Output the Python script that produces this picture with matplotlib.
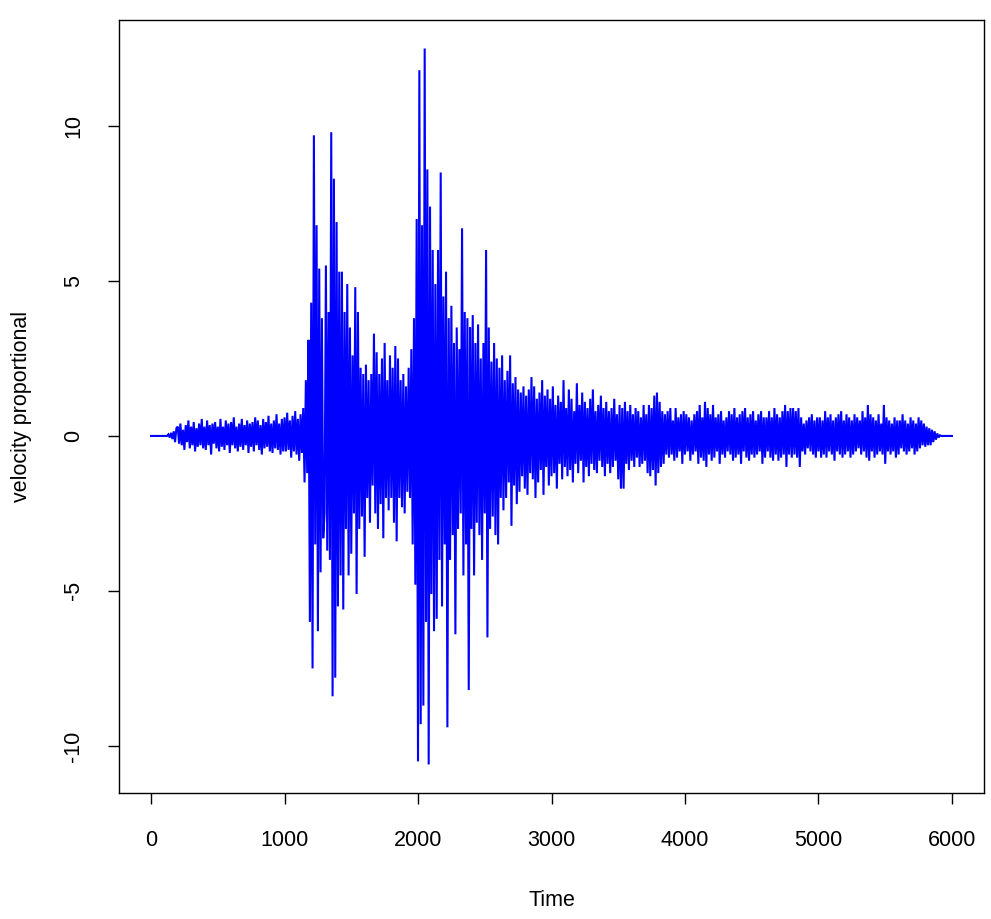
import numpy as np
import matplotlib
matplotlib.use("Agg")
import matplotlib.pyplot as plt

plt.rcParams['font.family'] = ['Liberation Sans', 'DejaVu Sans']

# sampling step of the series (time units)
step = 10

velocity = [
    # 0-190
    0, 0, 0, 0, 0, 0, 0, 0, 0, 0, 0, 0, 0, 0.05, -0.05, 0.1, -0.1, 0.15, -0.2, 0.25,
    # 200-390
    0.3, -0.25, 0.4, -0.3, 0.2, -0.45, 0.35, -0.2, 0.5, -0.4, 0.3, -0.3, 0.45, -0.5, 0.25, -0.35, 0.4, -0.3, 0.55, -0.4,
    # 400-590
    0.3, -0.45, 0.5, -0.3, 0.35, -0.6, 0.4, -0.25, 0.45, -0.4, 0.3, -0.5, 0.55, -0.35, 0.3, -0.45, 0.5, -0.3, 0.4, -0.55,
    # 600-790
    0.45, -0.3, 0.6, -0.4, 0.3, -0.5, 0.4, -0.35, 0.55, -0.45, 0.35, -0.3, 0.5, -0.55, 0.4, -0.35, 0.45, -0.5, 0.6, -0.3,
    # 800-990
    0.5, -0.45, 0.35, -0.6, 0.55, -0.4, 0.45, -0.35, 0.65, -0.5, 0.4, -0.55, 0.5, -0.4, 0.7, -0.45, 0.4, -0.6, 0.55, -0.5,
    # 1000-1190
    0.6, -0.5, 0.75, -0.45, 0.5, -0.7, 0.65, -0.5, 0.8, -0.6, 0.55, -0.8, 0.7, -0.55, 0.9, -1.5, 1.8, -1.2, 3.1, -6.0,
    # 1200-1390
    4.3, -7.5, 9.7, -3.5, 6.8, -6.3, 5.4, -4.4, 3.8, -3.3, -2.5, 5.5, -3.7, 4.0, -4.0, 9.8, -8.4, 8.3, -7.8, 6.9,
    # 1400-1590
    -5.5, 5.3, -4.5, 5.3, -5.6, 4.0, -3.0, 4.9, -4.5, 3.5, -3.8, 2.6, -2.5, 4.8, -5.1, 4.0, -3.0, 2.2, -2.6, 2.0,
    # 1600-1790
    -3.9, 2.3, -2.0, 1.8, -2.8, 2.0, -1.6, 3.3, -2.5, 2.7, -3.0, 2.0, -2.2, 2.5, -3.3, 3.0, -2.0, 1.8, -2.4, 2.6,
    # 1800-1990
    -2.0, 2.2, -2.8, 2.9, -3.4, 2.5, -2.0, 1.8, -2.3, 2.0, -2.5, 1.6, -1.8, 2.2, -2.0, 2.8, -3.5, 3.8, -4.8, 7.0,
    # 2000-2190
    -10.5, 11.8, -9.3, 6.8, -8.7, 12.5, -6.0, 8.6, -10.6, 7.4, -5.1, 6.0, -6.3, 4.9, -5.9, 6.0, -4.0, 8.5, -5.5, 4.5,
    # 2200-2390
    -3.5, 5.3, -9.4, 3.8, -4.0, 4.2, -3.2, 3.0, -6.4, 3.5, -3.0, 2.8, -2.5, 6.7, -4.5, 4.0, -3.5, 3.8, -8.2, 3.5,
    # 2400-2590
    -3.0, 3.9, -4.5, 3.0, -2.8, 3.6, -3.2, 2.5, -4.0, 3.0, -2.5, 6.0, -6.5, 3.5, -3.0, 2.4, -2.6, 3.0, -3.2, 2.5,
    # 2600-2790
    -3.5, 2.2, -2.0, 2.6, -2.4, 1.8, -2.0, 2.1, -1.5, 2.6, -2.9, 1.7, -1.6, 1.9, -2.2, 1.5, -1.8, 1.4, -1.3, 1.6,
    # 2800-2990
    -1.7, 1.3, -1.9, 1.5, -1.2, 1.9, -1.4, 1.6, -2.0, 1.2, -1.5, 1.4, -1.1, 1.8, -1.9, 1.3, -1.0, 1.5, -1.6, 1.2,
    # 3000-3190
    -1.3, 1.6, -1.2, 1.0, -1.7, 1.3, -0.9, 1.1, -1.4, 1.8, -1.0, 0.9, -1.3, 1.5, -1.1, 1.2, -1.5, 0.8, -0.9, 1.7,
    # 3200-3390
    -1.2, 1.0, -0.8, 1.4, -1.5, 1.1, -1.0, 0.9, -1.3, 1.2, -0.9, 1.5, -1.1, 0.8, -1.2, 1.0, -0.8, 1.3, -1.0, 0.9,
    # 3400-3590
    -1.3, 1.1, -0.9, 0.8, -1.2, 0.9, -1.0, 1.2, -0.8, 0.7, -1.4, 1.0, -1.7, 0.9, -1.7, 1.1, -0.9, 0.8, -1.1, 1.0,
    # 3600-3790
    -0.8, 0.7, -1.0, 0.9, -0.7, 0.8, -1.0, 0.6, -0.9, 1.0, -0.8, 0.7, -1.2, 1.0, -1.3, 0.9, -1.1, 1.3, -1.6, 1.4,
    # 3800-3990
    -1.2, 1.1, -1.0, 0.8, -0.9, 0.7, -0.6, 0.8, -0.7, 0.9, -0.6, 0.5, -0.8, 0.9, -0.7, 0.6, -0.5, 0.7, -0.9, 0.8,
    # 4000-4190
    -0.6, 0.7, -0.5, 0.6, -0.8, 0.5, -0.6, 0.7, -0.5, 0.8, -0.9, 1.0, -0.7, 0.6, -0.8, 1.1, -1.0, 0.9, -0.6, 0.7,
    # 4200-4390
    -0.8, 1.0, -0.7, 0.6, -0.5, 0.7, -0.9, 0.8, -0.6, 0.5, -0.7, 0.6, -0.5, 0.8, -0.6, 0.7, -0.8, 0.9, -0.7, 0.6,
    # 4400-4590
    -0.6, 0.7, -0.9, 0.8, -0.5, 0.9, -0.7, 0.6, -0.8, 0.7, -0.6, 0.8, -0.7, 0.5, -0.6, 0.7, -0.5, 0.8, -0.9, 0.6,
    # 4600-4790
    -0.7, 0.6, -0.5, 0.8, -0.7, 0.6, -0.8, 0.9, -0.6, 0.7, -0.8, 0.6, -0.7, 0.8, -0.6, 1.0, -1.0, 0.8, -0.6, 0.9,
    # 4800-4990
    -0.7, 0.9, -0.6, 0.8, -0.7, 0.9, -1.0, 0.6, -0.5, 0.4, -0.6, 0.5, -0.4, 0.6, -0.5, 0.7, -0.6, 0.5, -0.7, 0.6,
    # 5000-5190
    -0.5, 0.6, -0.7, 0.5, -0.6, 0.8, -0.7, 0.6, -0.5, 0.7, -0.6, 0.5, -0.8, 0.6, -0.5, 0.7, -0.6, 0.8, -0.7, 0.5,
    # 5200-5390
    -0.6, 0.7, -0.5, 0.6, -0.7, 0.5, -0.6, 0.7, -0.5, 0.6, -0.4, 0.5, -0.6, 0.8, -0.5, 0.6, -0.7, 1.0, -0.8, 0.7,
    # 5400-5590
    -0.5, 0.6, -0.7, 0.5, -0.6, 0.7, -0.5, 0.4, -0.6, 1.0, -0.9, 0.6, -0.5, 0.5, -0.6, 0.4, -0.5, 0.6, -0.7, 0.5,
    # 5600-5790
    -0.6, 0.5, -0.4, 0.7, -0.5, 0.5, -0.6, 0.4, -0.5, 0.6, -0.4, 0.5, -0.6, 0.4, -0.5, 0.6, -0.4, 0.5, -0.3, 0.4,
    # 5800-5990
    -0.35, 0.3, -0.3, 0.25, -0.3, 0.2, -0.2, 0.15, -0.12, 0.08, -0.05, 0.02, 0, 0, 0, 0, 0, 0, 0, 0,
    # 6000
    0,
]

time = np.arange(len(velocity)) * step

x_ticks = [0, 1000, 2000, 3000, 4000, 5000, 6000]
y_ticks = [-10, -5, 0, 5, 10]

W, H = 991, 919
fig = plt.figure(figsize=(W / 100, H / 100), dpi=100)
left, right, top, bottom = 119, 984, 20, 793
ax = fig.add_axes([left / W, 1 - bottom / H, (right - left) / W, (bottom - top) / H])

ax.plot(time, velocity, color='#0000ff', lw=1.5, solid_joinstyle='miter')

ax.set_xlim(-240, 6240)
ax.set_ylim(-11.52, 13.42)
ax.set_xticks(x_ticks)
ax.set_xticklabels([str(v) for v in x_ticks])
ax.set_yticks(y_ticks)
ax.set_yticklabels([str(v) for v in y_ticks], rotation=90, va='center')
ax.tick_params(direction='out', length=8, width=1, labelsize=15.5, colors='black')
ax.tick_params(axis='x', pad=19)
ax.tick_params(axis='y', pad=17)
for s in ax.spines.values():
    s.set_linewidth(1)
    s.set_color('black')

fig.text(((left + right) / 2) / W, 1 - 900 / H, 'Time', ha='center', va='center', fontsize=15.5)
fig.text(22 / W, 1 - ((top + bottom) / 2) / H, 'velocity proportional', ha='center', va='center',
         rotation=90, fontsize=15.5)

fig.savefig('out.png', dpi=100)
